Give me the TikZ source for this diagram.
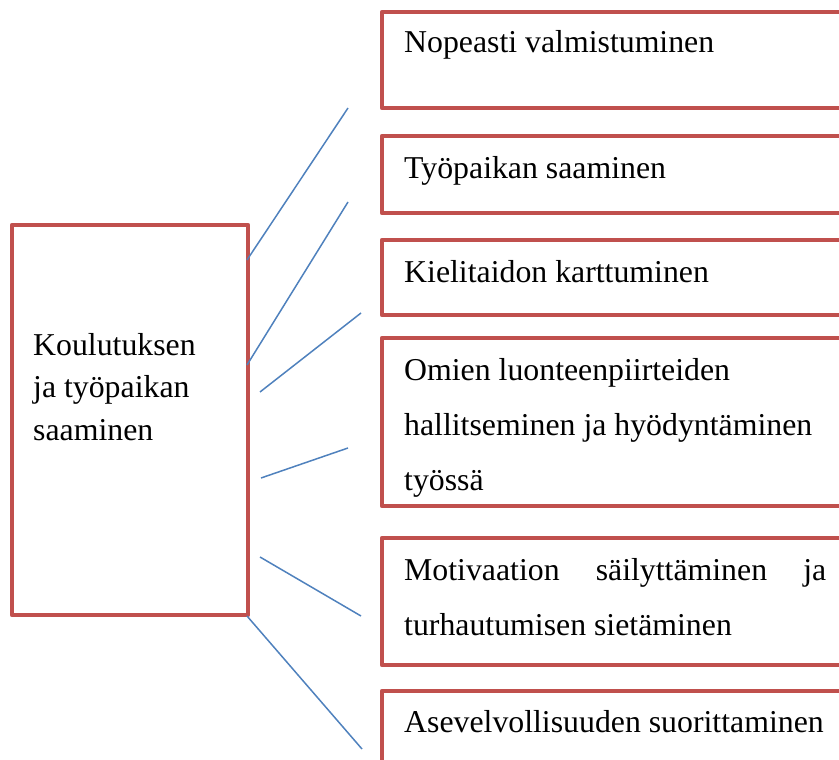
\documentclass[tikz,border=0pt]{standalone}
\usepackage{fontspec}
\setmainfont{Liberation Serif}
\definecolor{boxred}{HTML}{C0504D}
\definecolor{lineblue}{HTML}{4F81BD}
\begin{document}
\begin{tikzpicture}[x=1pt,y=-1pt,
  redbox/.style={draw=boxred,line width=4.5pt,line join=round,rectangle,anchor=north west,inner sep=0pt,outer sep=0pt},
  lbl/.style={anchor=base west,inner sep=0pt,font=\fontsize{31.8pt}{38pt}\selectfont},
  link/.style={draw=lineblue,line width=1.5pt}]
\useasboundingbox (0,0) rectangle (839,760);
\clip (0,0) rectangle (839,760);
% left box
\node[redbox,minimum width=236pt,minimum height=390pt] (main) at (12,225) {};
\node[lbl] (m1) at (33,355) {Koulutuksen};
\node[lbl] (m2) at (33,397) {ja työpaikan};
\node[lbl] (m3) at (33,440) {saaminen};
% right boxes
\node[redbox,minimum width=480pt,minimum height=96pt] (b1) at (382,12) {};
\node[redbox,minimum width=480pt,minimum height=77pt] (b2) at (382,136) {};
\node[redbox,minimum width=480pt,minimum height=75pt] (b3) at (382,240) {};
\node[redbox,minimum width=480pt,minimum height=168pt] (b4) at (382,338) {};
\node[redbox,minimum width=480pt,minimum height=127pt] (b5) at (382,538) {};
\node[redbox,minimum width=480pt,minimum height=120pt] (b6) at (382,691) {};
\node[lbl] (t1) at (404,53) {Nopeasti valmistuminen};
\node[lbl] (t2) at (404,178) {Työpaikan saaminen};
\node[lbl] (t3) at (404,282) {Kielitaidon karttuminen};
\node[lbl] (t4a) at (404,380) {Omien luonteenpiirteiden};
\node[lbl] (t4b) at (404,435) {hallitseminen ja hyödyntäminen};
\node[lbl] (t4c) at (404,490) {työssä};
\node[lbl] (t5a) at (404,580) {\hbox to 422pt{Motivaation\hfill säilyttäminen\hfill ja}};
\node[lbl] (t5b) at (404,635) {turhautumisen sietäminen};
\node[lbl] (t6) at (404,732) {Asevelvollisuuden suorittaminen};
% connector end points
\coordinate (s1) at (247,260); \coordinate (e1) at (348,108);
\coordinate (s2) at (247,365); \coordinate (e2) at (348,202);
\coordinate (s3) at (260,392); \coordinate (e3) at (361,313);
\coordinate (s4) at (261,478); \coordinate (e4) at (348,448);
\coordinate (s5) at (260,557); \coordinate (e5) at (361,616);
\coordinate (s6) at (247,616); \coordinate (e6) at (362,749);
\draw[link] (s1) -- (e1);
\draw[link] (s2) -- (e2);
\draw[link] (s3) -- (e3);
\draw[link] (s4) -- (e4);
\draw[link] (s5) -- (e5);
\draw[link] (s6) -- (e6);
\end{tikzpicture}
\end{document}
